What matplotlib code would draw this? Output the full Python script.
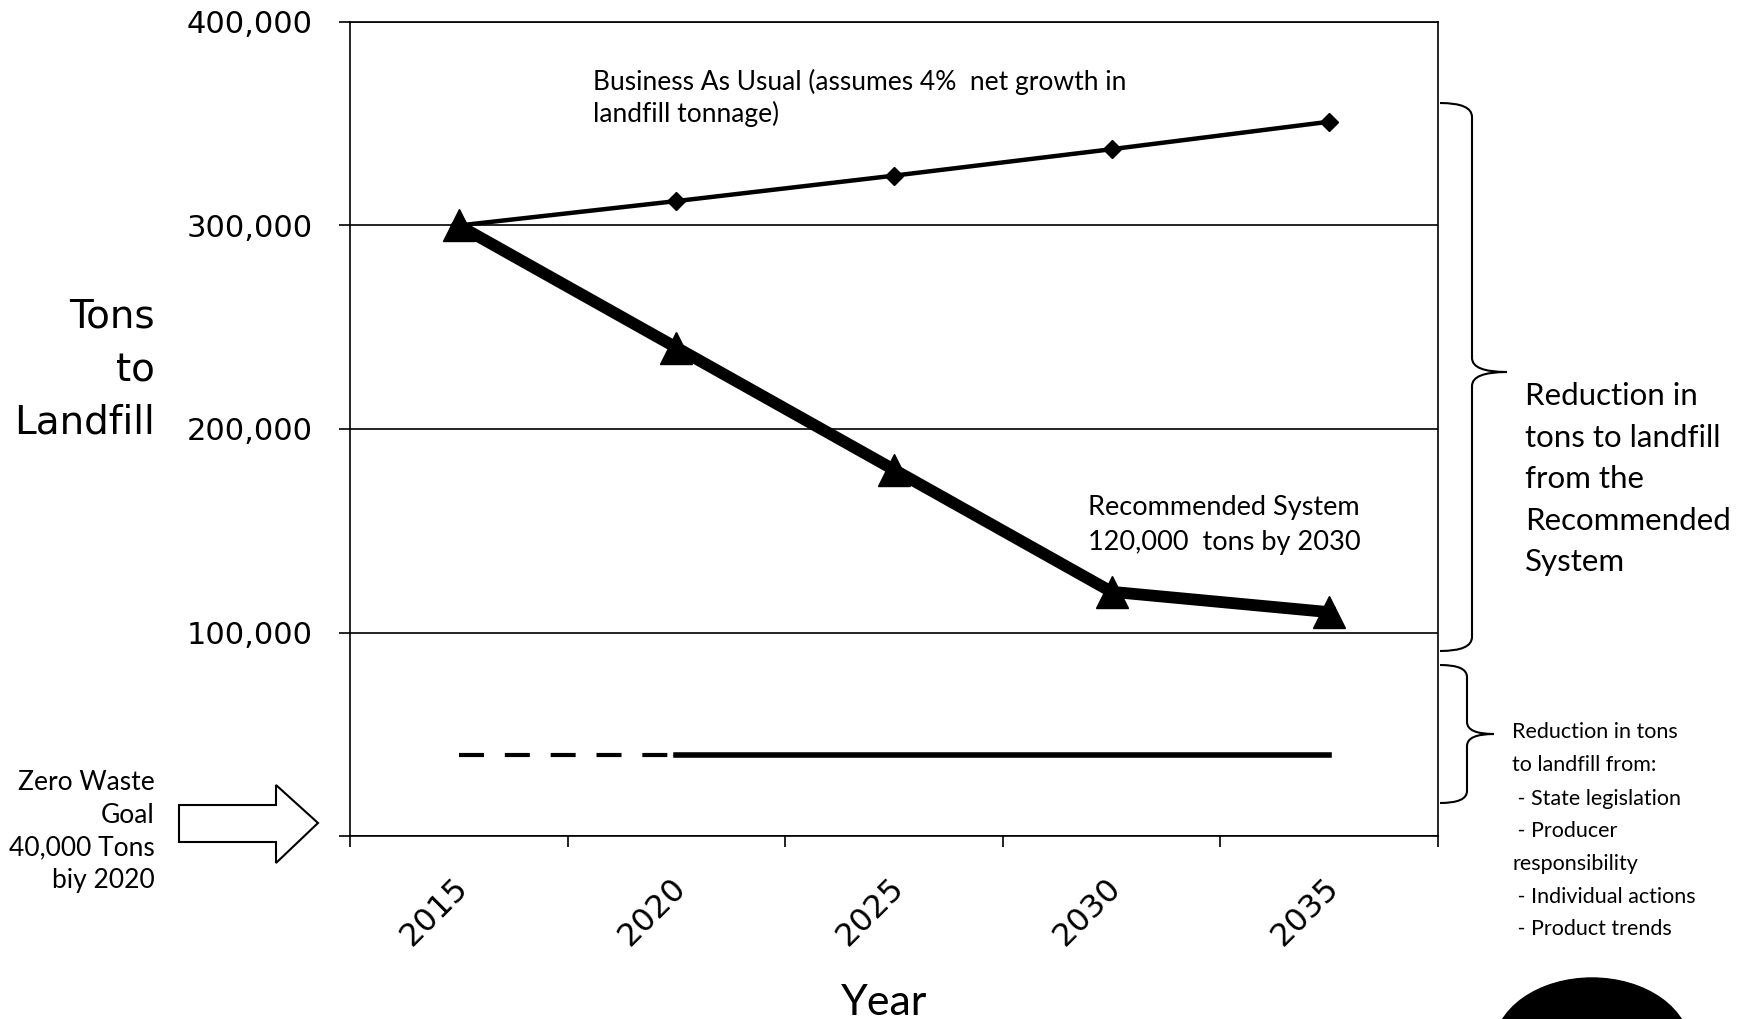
import numpy as np
import matplotlib.pyplot as plt
from matplotlib.path import Path
from matplotlib.patches import PathPatch, Polygon, Ellipse
from matplotlib.transforms import ScaledTranslation

# %%
# values
years = ['2015', '2020', '2025', '2030', '2035']
business_as_usual = [300000, 312000, 324500, 337500, 351000]
recommended_system = [300000, 240000, 180000, 120000, 110000]
zero_waste_dashed = [40000, 40000]                 # 2015 -> 2020
zero_waste_solid = [40000, 40000, 40000, 40000]    # 2020 -> 2035
y_ticks = [0, 100000, 200000, 300000, 400000]

ylabel_lines = ['Tons', 'to', 'Landfill']
bau_note = ['Business As Usual (assumes 4%  net growth in', 'landfill tonnage)']
rec_note = ['Recommended System', '120,000  tons by 2030']
big_brace_note = ['Reduction in', 'tons to landfill', 'from the', 'Recommended', 'System']
small_brace_note = ['Reduction in tons', 'to landfill from:', ' - State legislation', ' - Producer',
                    'responsibility', ' - Individual actions', ' - Product trends']
goal_note = ['Zero Waste', 'Goal', '40,000 Tons', 'biy 2020']

W, H = 1750, 1019


def fig_xy(x, y):
    # pixel position (measured from top-left) -> figure fraction
    return x / W, 1 - y / H


# %%
fig = plt.figure(figsize=(W / 100, H / 100), dpi=100)
left, top = fig_xy(350, 22)
right, bottom = fig_xy(1438, 836)
ax = fig.add_axes([left, bottom, right - left, top - bottom])

x = np.arange(len(years))
ax.plot(x, business_as_usual, color='black', lw=3.2, marker='D', ms=9.5, zorder=3)
ax.plot(x, recommended_system, color='black', lw=8.5, marker='^', ms=23, zorder=4)
ax.plot(x[:2], zero_waste_dashed, color='black', lw=3, dashes=(6, 5), zorder=3)
ax.plot(x[1:], zero_waste_solid, color='black', lw=4, zorder=3)

ax.set_xlim(-0.5, len(years) - 0.5)
ax.set_ylim(0, 400000)
ax.set_yticks(y_ticks)
ax.set_yticklabels(['' if v == 0 else f'{v:,}' for v in y_ticks])
ax.yaxis.grid(True, color='black', lw=1.2)
ax.set_axisbelow(True)
ax.tick_params(axis='y', direction='out', length=8, width=1.2, pad=19, labelsize=22)

# excel style: tick marks between categories, labels in the middle
ax.set_xticks(np.arange(-0.5, len(years), 1.0))
ax.set_xticklabels([])
ax.set_xticks(x, minor=True)
ax.set_xticklabels(years, minor=True, rotation=45, ha='right', va='top',
                   rotation_mode='anchor', fontsize=23)
ax.tick_params(axis='x', which='major', direction='out', length=8, width=1.2)
ax.tick_params(axis='x', which='minor', length=0, pad=26)
shift = ScaledTranslation(-0.06, 0, fig.dpi_scale_trans)
for lbl in ax.get_xticklabels(minor=True):
    lbl.set_transform(lbl.get_transform() + shift)

for s in ax.spines.values():
    s.set_linewidth(1.2)
    s.set_color('black')


# %%
# text around the chart
def put(lines, x0, baselines, **kw):
    for line, yb in zip(lines, baselines):
        fig.text(*fig_xy(x0, yb), line, va='baseline', **kw)


put(ylabel_lines, 155, [328, 381, 433], ha='right', fontsize=28)
put(['Year'], 884, [1015], ha='center', fontsize=31, family='Lato')
put(bau_note, 593, [90, 122], ha='left', fontsize=19, family='Lato')
put(rec_note, 1088, [515, 550], ha='left', fontsize=19.5, family='Lato')
put(big_brace_note, 1525, [405, 447, 488, 530, 571], ha='left', fontsize=22.5, family='Lato')
put(small_brace_note, 1512, [738, 771, 805, 837, 870, 903, 935], ha='left', fontsize=15.5, family='Lato')
put(goal_note, 155, [790, 823, 855, 888], ha='right', fontsize=19, family='Lato')

# block arrow pointing at the goal line
arrow_px = [(179, 805), (276, 805), (276, 785), (318, 823), (276, 863), (276, 842), (179, 842)]
fig.add_artist(Polygon([fig_xy(*p) for p in arrow_px], closed=True, facecolor='white',
                       edgecolor='black', lw=1.5, transform=fig.transFigure))


def brace(x0, xv, xtip, y_top, y_mid, y_bot, r):
    pts = [(x0, y_top), (xv, y_top), (xv, y_top + r),
           (xv, y_mid - r), (xv, y_mid), (xtip, y_mid),
           (xv, y_mid), (xv, y_mid + r),
           (xv, y_bot - r), (xv, y_bot), (x0, y_bot)]
    codes = [Path.MOVETO, Path.CURVE3, Path.CURVE3,
             Path.LINETO, Path.CURVE3, Path.CURVE3,
             Path.CURVE3, Path.CURVE3,
             Path.LINETO, Path.CURVE3, Path.CURVE3]
    path = Path([fig_xy(*p) for p in pts], codes)
    fig.add_artist(PathPatch(path, facecolor='none', edgecolor='black', lw=1.5,
                             transform=fig.transFigure))


brace(1440, 1472, 1507, 103, 372, 651, 14)
brace(1440, 1467, 1494, 665, 734, 803, 12)

# cut off logo in the lower right corner
cx, cy = fig_xy(1592, 1048)
fig.add_artist(Ellipse((cx, cy), 196 / W, 140 / H, color='black', transform=fig.transFigure))

plt.savefig('out.png', dpi=100)
